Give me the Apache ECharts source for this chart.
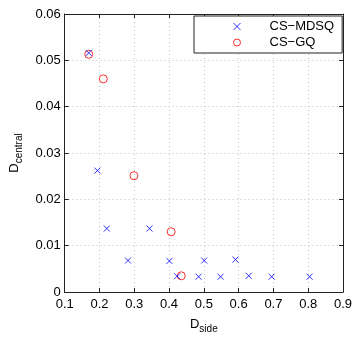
<!DOCTYPE html>
<html><head><meta charset="utf-8">
<script src="https://cdn.jsdelivr.net/npm/echarts@6/dist/echarts.min.js"></script>
<style>html,body{margin:0;padding:0;background:#fff}#c{width:357px;height:339px}</style>
</head><body><div id="c"></div>
<script>
var mdsqX = [0.169, 0.194, 0.221, 0.282, 0.344, 0.401, 0.423, 0.485, 0.501, 0.548, 0.591, 0.629, 0.695, 0.804];
var mdsqY = [0.0516, 0.0262, 0.0137, 0.0068, 0.0137, 0.0067, 0.0034, 0.0033, 0.0068, 0.0033, 0.0070, 0.0035, 0.0033, 0.0033];
var gqX = [0.169, 0.211, 0.299, 0.406, 0.435];
var gqY = [0.0513, 0.0460, 0.0251, 0.0130, 0.0035];
var xTicks = [0.1, 0.2, 0.3, 0.4, 0.5, 0.6, 0.7, 0.8, 0.9];
var yTicks = [0, 0.01, 0.02, 0.03, 0.04, 0.05, 0.06];

function pairs(xs, ys){ return xs.map(function(x,i){ return [x, ys[i]]; }); }
var font = 'Liberation Sans, Arial, sans-serif';
var axisCol = '#222';
var chart = echarts.init(document.getElementById('c'), null, {renderer:'canvas'});
function xa(pos, main){
  return {
    type:'value', position:pos, min:xTicks[0], max:xTicks[xTicks.length-1], interval:0.1,
    axisLine:{show:true, onZero:false, lineStyle:{color:axisCol, width:1}},
    axisTick:{show:true, inside:true, length:4, lineStyle:{color:axisCol}},
    axisLabel:{show:main, color:'#000', fontSize:13, fontFamily:font, margin:6,
      formatter:function(v){ return String(Math.round(v*10)/10); }},
    splitLine:{show:main, lineStyle:{color:'#c4c4c4', type:[1,3], width:1}},
    name: main ? '{d|D}{s|side}' : '', nameLocation:'middle', nameGap:22,
    nameTextStyle:{rich:{d:{fontSize:13, fontFamily:font, color:'#000'}, s:{fontSize:10, fontFamily:font, color:'#000', padding:[10,0,0,0]}}}
  };
}
function ya(pos, main){
  return {
    type:'value', position:pos, min:yTicks[0], max:yTicks[yTicks.length-1], interval:0.01,
    axisLine:{show:true, onZero:false, lineStyle:{color:axisCol, width:1}},
    axisTick:{show:true, inside:true, length:4, lineStyle:{color:axisCol}},
    axisLabel:{show:main, color:'#000', fontSize:13, fontFamily:font, margin:4,
      formatter:function(v){ return v===0 ? '0' : v.toFixed(2); }},
    splitLine:{show:main, lineStyle:{color:'#c4c4c4', type:[1,3], width:1}},
    name: main ? '{d|D}{s|central}' : '', nameLocation:'middle', nameGap:36, nameRotate:90,
    nameTextStyle:{rich:{d:{fontSize:13, fontFamily:font, color:'#000'}, s:{fontSize:10, fontFamily:font, color:'#000', padding:[10,0,0,0]}}}
  };
}
chart.setOption({
  animation:false,
  backgroundColor:'#fff',
  grid:{left:55, right:14, top:14, bottom:38, containLabel:false},
  xAxis:[xa('bottom', true), xa('top', false)],
  yAxis:[ya('left', true), ya('right', false)],
  legend:{
    orient:'vertical', left:194, top:16,
    padding:[4, 8, 4, 37], itemGap:3, itemWidth:7, itemHeight:7,
    backgroundColor:'#fff', borderColor:'#222', borderWidth:1,
    itemStyle:{borderWidth:1},
    textStyle:{fontSize:13, fontFamily:font, color:'#000', padding:[0,0,0,24]},
    data:[
      {name:'CS\u2212MDSQ', itemStyle:{color:'none', borderColor:'#0000ff', borderWidth:1}},
      {name:'CS\u2212GQ', itemStyle:{color:'rgba(0,0,0,0)', borderColor:'#ff0000', borderWidth:1}}
    ]
  },
  series:[
    {name:'CS\u2212MDSQ', type:'scatter', data:pairs(mdsqX, mdsqY),
     symbol:'path://M0,0L10,10M10,0L0,10', symbolSize:6,
     itemStyle:{color:'none', borderColor:'#0000ff', borderWidth:1}, z:3},
    {name:'CS\u2212GQ', type:'scatter', data:pairs(gqX, gqY),
     symbol:'circle', symbolSize:8,
     itemStyle:{color:'rgba(0,0,0,0)', borderColor:'#ff0000', borderWidth:1}, z:2}
  ]
});
</script></body></html>
